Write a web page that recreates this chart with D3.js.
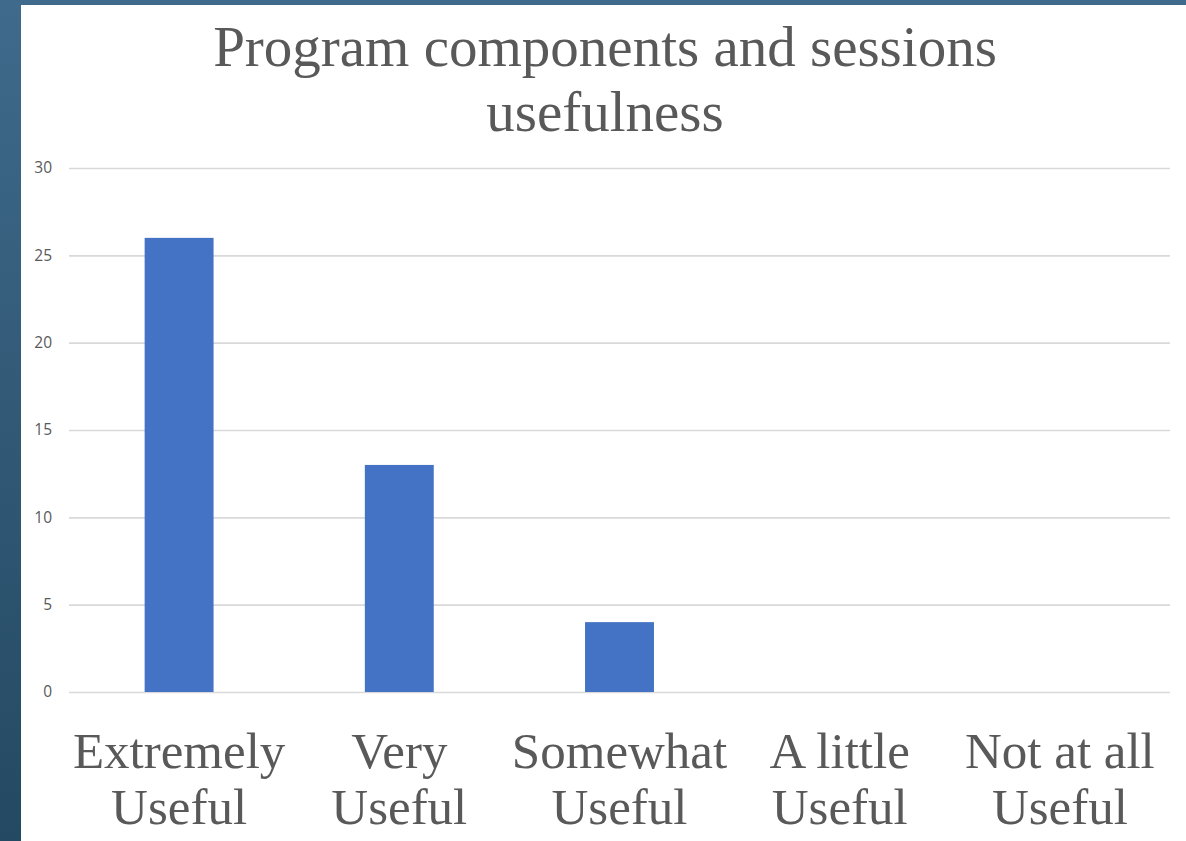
<!DOCTYPE html>
<html>
<head>
<meta charset="utf-8">
<script src="https://cdn.jsdelivr.net/npm/d3@7"></script>
<style>
  html, body { margin: 0; padding: 0; background: #fff; }
  svg { display: block; }
</style>
</head>
<body>
<svg id="chart" width="1186" height="841"></svg>
<script>
const categories = [["Extremely", "Useful"], ["Very", "Useful"], ["Somewhat", "Useful"], ["A little", "Useful"], ["Not at all", "Useful"]];
const values = [26, 13, 4, 0, 0];
const yTicks = [0, 5, 10, 15, 20, 25, 30];
const titleLines = ["Program components and sessions", "usefulness"];

const W = 1186, H = 841;
const svg = d3.select("#chart");

// frame background gradient
const defs = svg.append("defs");
const grad = defs.append("linearGradient").attr("id", "bg").attr("x1", 0).attr("y1", 0).attr("x2", 0).attr("y2", 1);
grad.append("stop").attr("offset", "0%").attr("stop-color", "#3f6a8b");
grad.append("stop").attr("offset", "100%").attr("stop-color", "#244962");
svg.append("rect").attr("x", 0).attr("y", 0).attr("width", W).attr("height", H).attr("fill", "url(#bg)");
svg.append("rect").attr("x", 21).attr("y", 5).attr("width", W - 21).attr("height", H - 5).attr("fill", "#ffffff");

const plot = { left: 69, right: 1170, top: 168, bottom: 692 };
const keys = categories.map(c => c.join(" "));

const x = d3.scaleBand().domain(keys).range([plot.left, plot.right]).paddingInner(0.687).paddingOuter(0.3435);
const y = d3.scaleLinear().domain([0, 30]).range([plot.bottom, plot.top]);

// title
const title = svg.append("text")
  .attr("x", 605).attr("y", 66)
  .attr("text-anchor", "middle")
  .attr("font-family", "'Liberation Serif', 'Times New Roman', serif")
  .attr("font-size", 57)
  .attr("fill", "#595959");
titleLines.forEach((t, i) => title.append("tspan").attr("x", 605).attr("dy", i === 0 ? 0 : 65).text(t));

// y axis with gridlines
const yAxis = svg.append("g")
  .attr("transform", `translate(${plot.left},0)`)
  .call(d3.axisLeft(y).tickValues(yTicks).tickSize(-(plot.right - plot.left)).tickPadding(17));
yAxis.select(".domain").remove();
yAxis.selectAll(".tick line").attr("stroke", "#d9d9d9").attr("stroke-width", 1.6);
yAxis.selectAll(".tick text")
  .attr("font-family", "'Open Sans', 'DejaVu Sans', sans-serif")
  .attr("font-size", 15.5)
  .attr("fill", "#595959");

// bars
svg.append("g").selectAll("rect")
  .data(values)
  .join("rect")
  .attr("x", (d, i) => x(keys[i]))
  .attr("y", d => y(d))
  .attr("width", x.bandwidth())
  .attr("height", d => y(0) - y(d))
  .attr("fill", "#4472c4");

// x axis labels
const xAxis = svg.append("g")
  .attr("transform", `translate(0,${plot.bottom})`)
  .call(d3.axisBottom(x).tickSize(0).tickFormat(""));
xAxis.select(".domain").remove();
xAxis.selectAll(".tick").each(function(d, i) {
  const t = d3.select(this).append("text")
    .attr("text-anchor", "middle")
    .attr("font-family", "'Liberation Serif', 'Times New Roman', serif")
    .attr("font-size", 51)
    .attr("fill", "#595959")
    .attr("y", 76);
  categories[i].forEach((line, j) => t.append("tspan").attr("x", 0).attr("dy", j === 0 ? 0 : 56).text(line));
});
</script>
</body>
</html>
